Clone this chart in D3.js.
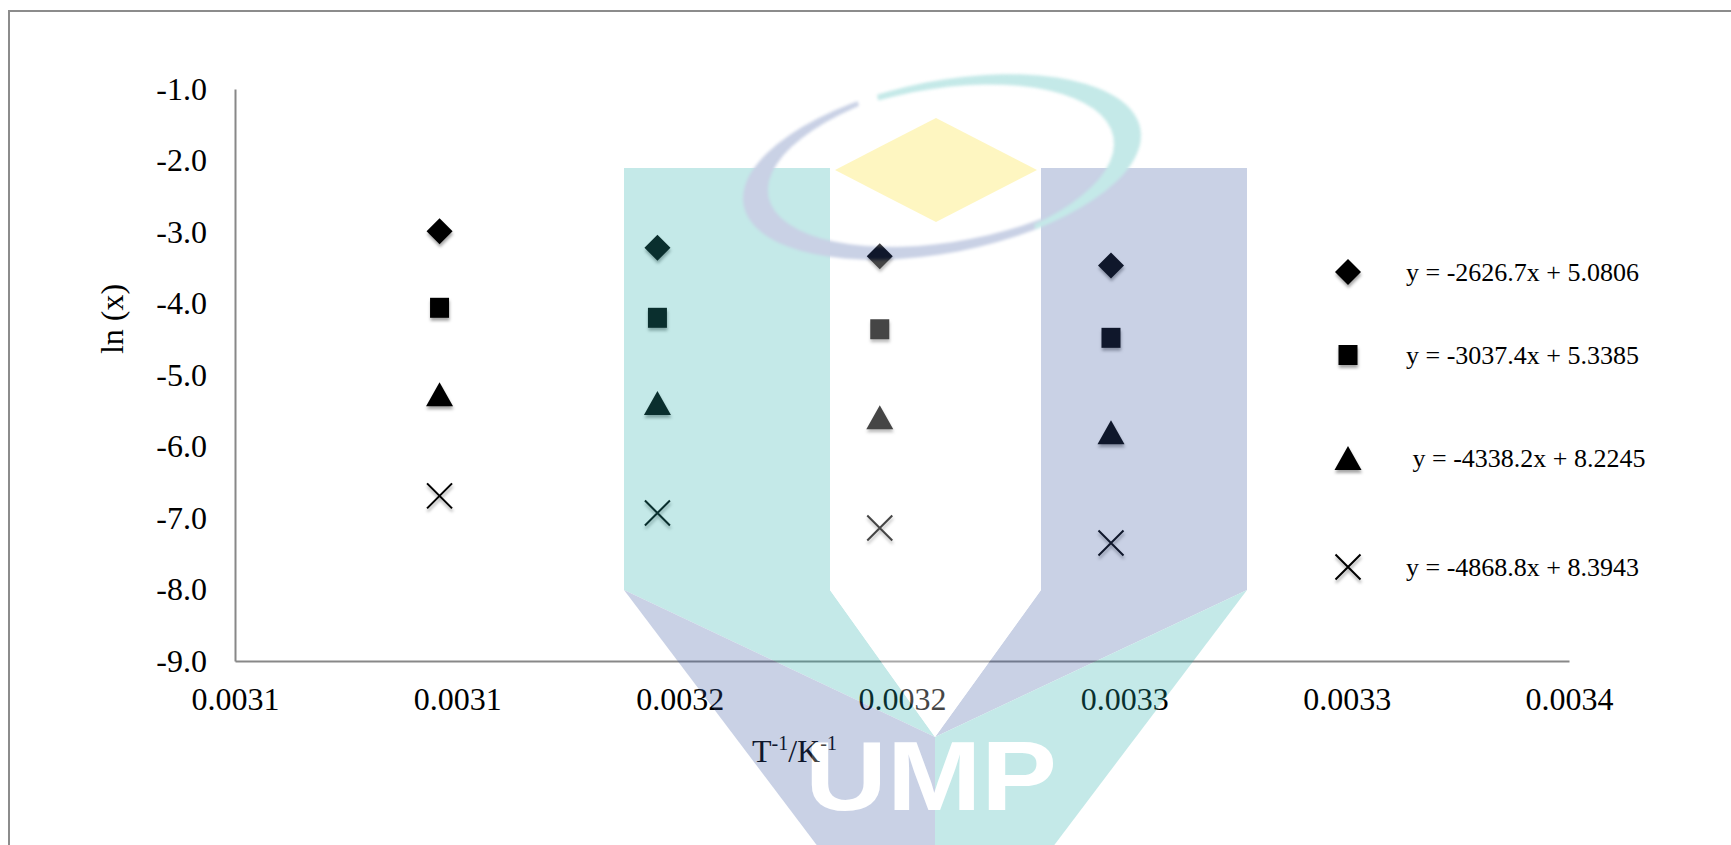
<!DOCTYPE html>
<html>
<head>
<meta charset="utf-8">
<script src="https://cdn.jsdelivr.net/npm/d3@7"></script>
<style>
  html, body { margin: 0; padding: 0; background: #fff; overflow: hidden; }
  svg { display: block; }
  .serif { font-family: "Liberation Serif", "Times New Roman", Times, serif; fill: #000; }
</style>
</head>
<body>
<svg id="chart" width="1731" height="845"></svg>
<script>
// Reciprocal temperature (1/T, K^-1) of the four runs
const invT = [0.003096, 0.003145, 0.003195, 0.003247];

// ln(x) for each series
const lnDiamond  = [-2.99, -3.22, -3.34, -3.47];
const lnSquare   = [-4.06, -4.20, -4.36, -4.48];
const lnTriangle = [-5.27, -5.39, -5.59, -5.80];
const lnCross    = [-6.69, -6.93, -7.14, -7.35];

// Linear fit equations shown in the legend
const fitLabels = [
  "y = -2626.7x + 5.0806",
  "y = -3037.4x + 5.3385",
  " y = -4338.2x + 8.2245",
  "y = -4868.8x + 8.3943"
];

// Axis ticks
const xTickValues = [0.00305, 0.0031, 0.00315, 0.0032, 0.00325, 0.0033, 0.00335];
const xTickLabels = ["0.0031", "0.0031", "0.0032", "0.0032", "0.0033", "0.0033", "0.0034"];
const yTickValues = [-1, -2, -3, -4, -5, -6, -7, -8, -9];
const yTickLabels = ["-1.0", "-2.0", "-3.0", "-4.0", "-5.0", "-6.0", "-7.0", "-8.0", "-9.0"];

const svg = d3.select("#chart");
const plot = { left: 235, right: 1569, top: 89, bottom: 661 };

const x = d3.scaleLinear().domain(d3.extent(xTickValues)).range([plot.left, plot.right]);
const y = d3.scaleLinear().domain(d3.extent(yTickValues)).range([plot.bottom, plot.top]);

// Soft shadow under markers
const defs = svg.append("defs");
const f = defs.append("filter").attr("id", "shadow")
  .attr("x", "-60%").attr("y", "-60%").attr("width", "220%").attr("height", "220%");
f.append("feDropShadow").attr("dx", 0.5).attr("dy", 3).attr("stdDeviation", 1.6)
  .attr("flood-color", "#000").attr("flood-opacity", 0.35);
defs.append("filter").attr("id", "soft")
  .append("feGaussianBlur").attr("stdDeviation", 1.4);

// Page frame (top and left edges)
svg.append("path")
  .attr("d", "M9,845 V11 H1731")
  .attr("fill", "none").attr("stroke", "#8c8c8c").attr("stroke-width", 2);

// Axes
const xAxis = d3.axisBottom(x)
  .tickValues(xTickValues)
  .tickFormat((d, i) => xTickLabels[i])
  .tickSize(0).tickSizeOuter(0).tickPadding(26);
const yAxis = d3.axisLeft(y)
  .tickValues(yTickValues)
  .tickFormat((d, i) => yTickLabels[i])
  .tickSize(0).tickSizeOuter(0).tickPadding(28);

const gx = svg.append("g").attr("transform", `translate(0,${plot.bottom})`).call(xAxis);
const gy = svg.append("g").attr("transform", `translate(${plot.left},0)`).call(yAxis);
[gx, gy].forEach(g => {
  g.select(".domain").attr("stroke", "#888").attr("stroke-width", 2);
  g.selectAll("text").attr("class", "serif").style("font-size", "32px").attr("fill", "#000");
});

// Axis titles
svg.append("text").attr("class", "serif")
  .attr("transform", "translate(112,319) rotate(-90)")
  .attr("text-anchor", "middle").attr("dy", "0.33em")
  .style("font-size", "32px").text("ln (x)");

const xt = svg.append("text").attr("class", "serif")
  .attr("x", 752).attr("y", 762).style("font-size", "32px");
xt.append("tspan").text("T");
xt.append("tspan").attr("dy", -12).style("font-size", "20px").text("-1");
xt.append("tspan").attr("dy", 12).text("/K");
xt.append("tspan").attr("dy", -12).style("font-size", "20px").text("-1");

// Marker shapes, centred on (0,0)
const shapes = {
  diamond:  { d: "M0,-13L13,0L0,13L-13,0Z", fill: "#000", stroke: "none" },
  square:   { d: "M-9.5,-10H9.5V10H-9.5Z", fill: "#000", stroke: "none" },
  triangle: { d: "M0,-12L13.5,12H-13.5Z", fill: "#000", stroke: "none" },
  cross:    { d: "M-12.5,-12.5L12.5,12.5M12.5,-12.5L-12.5,12.5", fill: "none", stroke: "#000" }
};

const series = [
  { shape: "diamond",  values: lnDiamond,  label: fitLabels[0] },
  { shape: "square",   values: lnSquare,   label: fitLabels[1] },
  { shape: "triangle", values: lnTriangle, label: fitLabels[2] },
  { shape: "cross",    values: lnCross,    label: fitLabels[3] }
];

const pts = svg.append("g").attr("filter", "url(#shadow)");
series.forEach(s => {
  pts.selectAll(null)
    .data(s.values.map((v, i) => ({ x: invT[i], y: v })))
    .join("path")
    .attr("transform", d => `translate(${x(d.x)},${y(d.y)})`)
    .attr("d", shapes[s.shape].d)
    .attr("fill", shapes[s.shape].fill)
    .attr("stroke", shapes[s.shape].stroke)
    .attr("stroke-width", 2);
});

// Legend with fit equations
const legendX = 1348, legendTextX = 1406;
const legendY = [272, 355, 458, 567];
const lg = svg.append("g");
series.forEach((s, i) => {
  lg.append("path")
    .attr("transform", `translate(${legendX},${legendY[i]})`)
    .attr("d", shapes[s.shape].d)
    .attr("fill", shapes[s.shape].fill)
    .attr("stroke", shapes[s.shape].stroke)
    .attr("stroke-width", 2)
    .attr("filter", "url(#shadow)");
  lg.append("text").attr("class", "serif")
    .attr("x", legendTextX).attr("y", legendY[i]).attr("dy", "0.34em")
    .style("font-size", "26px").style("white-space", "pre")
    .text(s.label);
});

// Faint logo watermark laid over the plot
const wm = svg.append("g").attr("opacity", 0.27);
const teal = "#25aeaa", lav = "#37559f", gold = "#fbde1d";
const poly = (pts, fill) => wm.append("path").attr("d", "M" + pts.map(p => p.join(",")).join("L") + "Z").attr("fill", fill);

poly([[624,168],[830,168],[830,590],[935,737],[624,590]], teal);
poly([[1041,168],[1247,168],[1247,590],[935,737],[1041,590]], lav);
poly([[624,590],[935,737],[935,860],[828,860]], lav);
poly([[1247,590],[935,737],[935,860],[1043,860]], teal);
poly([[830,168],[1041,168],[1041,590],[935,737],[830,590]], "#fff");

// Ring swooshes
const ring = wm.append("g").attr("transform", "translate(942,167) rotate(-11)").attr("filter", "url(#soft)");
const ell = (cx, cy, rx, ry) =>
  `M${cx - rx},${cy}A${rx},${ry} 0 1,0 ${cx + rx},${cy}A${rx},${ry} 0 1,0 ${cx - rx},${cy}Z`;
defs.append("clipPath").attr("id", "clipLav").append("path")
  .attr("d", "M-260,-130H-70V0H90V130H-260Z");
defs.append("clipPath").attr("id", "clipTeal").append("path")
  .attr("d", "M-50,-130H260V130H80V0H-50Z");
ring.append("path").attr("d", ell(0, 0, 202, 86) + ell(14, -4, 190, 80))
  .attr("fill-rule", "evenodd").attr("fill", lav).attr("clip-path", "url(#clipLav)");
ring.append("path").attr("d", ell(0, 0, 202, 86) + ell(-14, 3, 188, 82))
  .attr("fill-rule", "evenodd").attr("fill", teal).attr("clip-path", "url(#clipTeal)");

poly([[936,118],[1037,170],[936,222],[835,170]], gold);

wm.append("text")
  .attr("x", 931).attr("y", 810).attr("text-anchor", "middle")
  .attr("textLength", 252).attr("lengthAdjust", "spacingAndGlyphs")
  .style("font-family", "'Liberation Sans', Arial, sans-serif")
  .style("font-weight", "bold").style("font-size", "98px")
  .attr("fill", "#fff").text("UMP");
</script>
</body>
</html>
